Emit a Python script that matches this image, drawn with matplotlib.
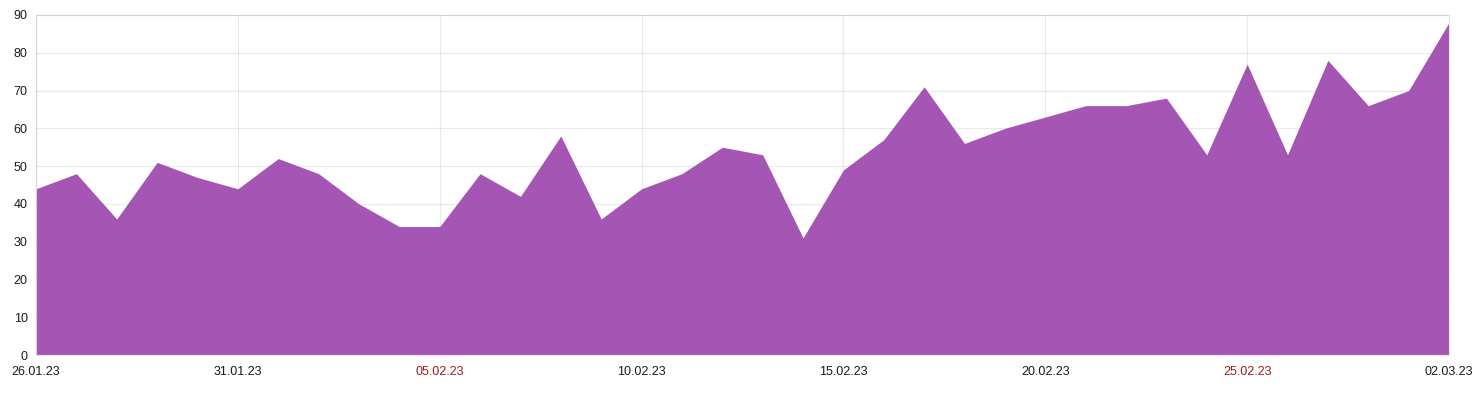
import matplotlib
matplotlib.use("Agg")
import matplotlib.pyplot as plt
import numpy as np

dates = ["26.01.23","27.01.23","28.01.23","29.01.23","30.01.23","31.01.23",
         "01.02.23","02.02.23","03.02.23","04.02.23","05.02.23","06.02.23",
         "07.02.23","08.02.23","09.02.23","10.02.23","11.02.23","12.02.23",
         "13.02.23","14.02.23","15.02.23","16.02.23","17.02.23","18.02.23",
         "19.02.23","20.02.23","21.02.23","22.02.23","23.02.23","24.02.23",
         "25.02.23","26.02.23","27.02.23","28.02.23","01.03.23","02.03.23"]
values = [44, 48, 36, 51, 47, 44, 52, 48, 40, 34, 34, 48, 42, 58, 36, 44, 48, 55,
          53, 31, 49, 57, 71, 56, 60, 63, 66, 66, 68, 53, 77, 53, 78, 66, 70, 88]
tick_labels = ["26.01.23", "31.01.23", "05.02.23", "10.02.23", "15.02.23",
               "20.02.23", "25.02.23", "02.03.23"]
red_labels = ["05.02.23", "25.02.23"]
y_ticks = [0, 10, 20, 30, 40, 50, 60, 70, 80, 90]

plt.rcParams["font.family"] = ["Liberation Sans", "DejaVu Sans"]

W, H = 1478, 394
fig = plt.figure(figsize=(W / 100, H / 100), dpi=100)
ax = fig.add_axes([36 / W, 1 - 355 / H, (1449 - 36) / W, (355 - 15) / H])

x = np.arange(len(values))
ax.fill_between(x, 0, values, color="#a555b4", linewidth=0, zorder=1)

ax.set_xlim(0, len(values) - 1)
ax.set_ylim(0, 90)

tick_pos = [dates.index(t) for t in tick_labels]
ax.set_xticks(tick_pos)
ax.set_xticklabels(tick_labels)
ax.set_yticks(y_ticks)
ax.tick_params(axis="both", length=0, labelsize=9, colors="#1a1a1a")
ax.tick_params(axis="x", pad=8)
ax.tick_params(axis="y", pad=6)
for lbl in ax.get_xticklabels():
    lbl.set_color("#a01818" if lbl.get_text() in red_labels else "#1a1a1a")

ax.grid(True, color="#7a7a7a", alpha=0.16, linewidth=0.8, zorder=2)
ax.set_axisbelow(False)
for side in ["top", "right", "left", "bottom"]:
    ax.spines[side].set_color("#e6e6e6")
    ax.spines[side].set_linewidth(0.8)

fig.savefig("out.png", dpi=100)
